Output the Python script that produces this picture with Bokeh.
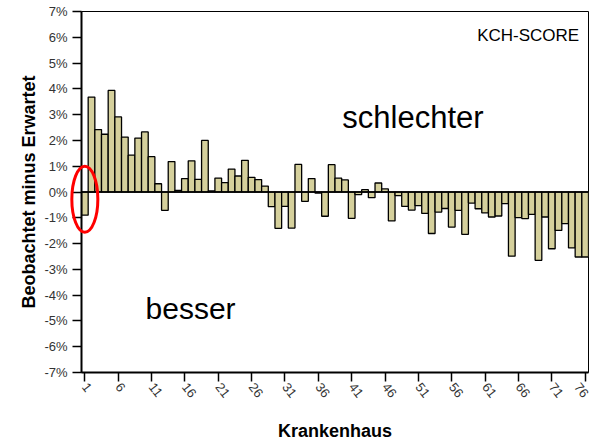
import math
from bokeh.plotting import figure
from bokeh.models import FixedTicker, PrintfTickFormatter, Span, Label, ColumnDataSource
from bokeh.embed import file_html
from bokeh.resources import INLINE

# ---- data ----
hospitals = list(range(1, 77))
diff_pct = [
    -0.90, 3.68, 2.42, 2.24, 3.94, 2.91, 2.13, 1.43, 2.09, 2.33,
    1.37, 0.32, -0.71, 1.18, 0.06, 0.52, 1.21, 0.49, 2.00, 0.04,
    0.54, 0.36, 0.89, 0.62, 1.23, 0.57, 0.48, 0.23, -0.57, -1.41,
    -0.56, -1.40, 1.07, -0.36, 0.52, -0.04, -0.94, 1.06, 0.54, 0.47,
    -1.02, -0.10, 0.09, -0.22, 0.35, 0.12, -1.12, -0.14, -0.56, -0.70,
    -0.53, -0.83, -1.61, -0.78, -0.64, -1.36, -0.71, -1.64, -0.43, -0.65,
    -0.81, -0.97, -0.93, -0.45, -2.49, -0.99, -1.03, -0.87, -2.65, -0.97,
    -2.20, -1.49, -1.23, -2.17, -2.52, -2.52,
]
x_ticks = list(range(1, 77, 5))
y_ticks = list(range(-7, 8))

highlight_x = [1.0]
highlight_y = [-0.28]

FONT = "Liberation Sans"

p = figure(frame_width=507, frame_height=361, x_range=(0.5, 76.5), y_range=(-7, 7),
           output_backend="svg", toolbar_location=None,
           min_border_left=81, min_border_right=1, min_border_top=11, min_border_bottom=69)

src = ColumnDataSource(dict(x=hospitals, top=diff_pct))
p.vbar(x="x", top="top", bottom=0, width=1.0, source=src,
       fill_color="#d5d09c", line_color="black", line_width=1.3)

p.add_layout(Span(location=0, dimension="width", line_color="black", line_width=1.5))

p.ellipse(x=highlight_x, y=highlight_y, width=3.9, height=2.56, fill_alpha=0,
          line_color="red", line_width=3, level="overlay")

p.xgrid.visible = False
p.ygrid.visible = False
p.outline_line_color = "black"
p.outline_line_width = 1
p.background_fill_color = "white"
p.border_fill_color = "white"

for ax in (p.xaxis[0], p.yaxis[0]):
    ax.axis_line_width = 2
    ax.axis_line_color = "black"
    ax.major_tick_in = 0
    ax.major_tick_out = 9
    ax.major_tick_line_width = 1.5
    ax.minor_tick_line_color = None
    ax.major_label_text_font = FONT
    ax.major_label_text_font_size = "13px"
    ax.major_label_text_color = "#333333"
    ax.axis_label_text_font = FONT
    ax.axis_label_text_font_size = "18px"
    ax.axis_label_text_font_style = "bold"
    ax.axis_label_text_color = "black"

p.yaxis[0].ticker = FixedTicker(ticks=y_ticks)
p.yaxis[0].formatter = PrintfTickFormatter(format="%d%%")
p.yaxis[0].axis_label = "Beobachtet minus Erwartet"
p.yaxis[0].major_label_standoff = 5
p.yaxis[0].axis_label_standoff = 2

p.xaxis[0].ticker = FixedTicker(ticks=x_ticks)
p.xaxis[0].axis_label = "Krankenhaus"
p.xaxis[0].major_label_orientation = -0.9
p.xaxis[0].major_label_standoff = 3
p.xaxis[0].axis_label_standoff = 17

p.add_layout(Label(x=75.1, y=6.07, text="KCH-SCORE", text_align="right",
                   text_baseline="alphabetic", text_font=FONT, text_font_size="17px",
                   text_color="black"))
p.add_layout(Label(x=39.6, y=2.87, text="schlechter", text_align="left",
                   text_baseline="alphabetic", text_font=FONT, text_font_size="31px",
                   text_color="black"))
p.add_layout(Label(x=10.1, y=-4.51, text="besser", text_align="left",
                   text_baseline="alphabetic", text_font=FONT, text_font_size="30px",
                   text_color="black"))

open("out.html", "w").write(file_html(p, INLINE))
